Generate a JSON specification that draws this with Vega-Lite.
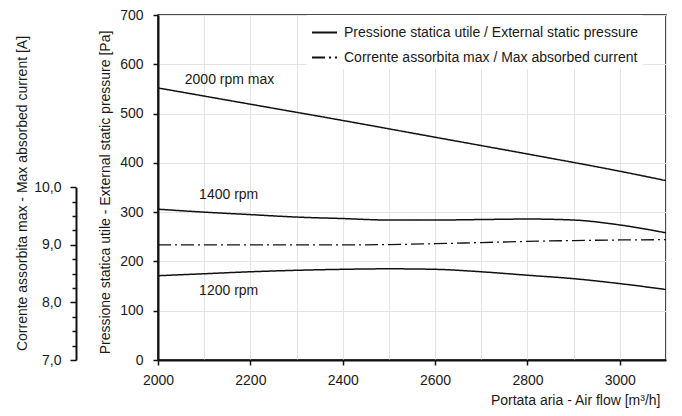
{
  "$schema": "https://vega.github.io/schema/vega-lite/v6.json",
  "width": 508,
  "height": 345,
  "autosize": {"type": "none"},
  "padding": {"left": 158, "top": 15, "right": 16, "bottom": 56},
  "background": "white",
  "config": {
    "font": "Liberation Sans",
    "view": {"stroke": "#111111", "strokeWidth": 1.5},
    "axis": {
      "labelFont": "Liberation Sans",
      "titleFont": "Liberation Sans",
      "labelFontSize": 14,
      "titleFontSize": 14,
      "titleFontWeight": "normal",
      "labelColor": "#1a1a1a",
      "titleColor": "#1a1a1a",
      "domainColor": "#111111",
      "domainWidth": 2,
      "tickColor": "#111111",
      "tickWidth": 1.5,
      "tickSize": 5,
      "gridColor": "#e4e4e4",
      "gridWidth": 1
    },
    "legend": {
      "fillColor": "white",
      "padding": 4,
      "symbolType": "stroke",
      "symbolSize": 625,
      "symbolStrokeWidth": 2,
      "symbolStrokeColor": "#111111",
      "labelFont": "Liberation Sans",
      "labelFontSize": 14,
      "labelColor": "#1a1a1a",
      "labelLimit": 500,
      "labelOffset": 6,
      "rowPadding": 4
    }
  },
  "datasets": {
    "pressure": [
      {"flow": 2000, "pa": 552, "curve": "2000", "serie": "Pressione statica utile / External static pressure"},
      {"flow": 2200, "pa": 519, "curve": "2000", "serie": "Pressione statica utile / External static pressure"},
      {"flow": 2400, "pa": 486, "curve": "2000", "serie": "Pressione statica utile / External static pressure"},
      {"flow": 2600, "pa": 452, "curve": "2000", "serie": "Pressione statica utile / External static pressure"},
      {"flow": 2800, "pa": 418, "curve": "2000", "serie": "Pressione statica utile / External static pressure"},
      {"flow": 3000, "pa": 383, "curve": "2000", "serie": "Pressione statica utile / External static pressure"},
      {"flow": 3100, "pa": 364, "curve": "2000", "serie": "Pressione statica utile / External static pressure"},
      {"flow": 2000, "pa": 306, "curve": "1400", "serie": "Pressione statica utile / External static pressure"},
      {"flow": 2100, "pa": 300, "curve": "1400", "serie": "Pressione statica utile / External static pressure"},
      {"flow": 2200, "pa": 295, "curve": "1400", "serie": "Pressione statica utile / External static pressure"},
      {"flow": 2300, "pa": 290, "curve": "1400", "serie": "Pressione statica utile / External static pressure"},
      {"flow": 2400, "pa": 287, "curve": "1400", "serie": "Pressione statica utile / External static pressure"},
      {"flow": 2500, "pa": 284, "curve": "1400", "serie": "Pressione statica utile / External static pressure"},
      {"flow": 2600, "pa": 284, "curve": "1400", "serie": "Pressione statica utile / External static pressure"},
      {"flow": 2700, "pa": 285, "curve": "1400", "serie": "Pressione statica utile / External static pressure"},
      {"flow": 2800, "pa": 286, "curve": "1400", "serie": "Pressione statica utile / External static pressure"},
      {"flow": 2900, "pa": 284, "curve": "1400", "serie": "Pressione statica utile / External static pressure"},
      {"flow": 3000, "pa": 274, "curve": "1400", "serie": "Pressione statica utile / External static pressure"},
      {"flow": 3100, "pa": 258, "curve": "1400", "serie": "Pressione statica utile / External static pressure"},
      {"flow": 2000, "pa": 171, "curve": "1200", "serie": "Pressione statica utile / External static pressure"},
      {"flow": 2100, "pa": 175, "curve": "1200", "serie": "Pressione statica utile / External static pressure"},
      {"flow": 2200, "pa": 179, "curve": "1200", "serie": "Pressione statica utile / External static pressure"},
      {"flow": 2300, "pa": 182, "curve": "1200", "serie": "Pressione statica utile / External static pressure"},
      {"flow": 2400, "pa": 184, "curve": "1200", "serie": "Pressione statica utile / External static pressure"},
      {"flow": 2500, "pa": 185, "curve": "1200", "serie": "Pressione statica utile / External static pressure"},
      {"flow": 2600, "pa": 184, "curve": "1200", "serie": "Pressione statica utile / External static pressure"},
      {"flow": 2700, "pa": 179, "curve": "1200", "serie": "Pressione statica utile / External static pressure"},
      {"flow": 2800, "pa": 172, "curve": "1200", "serie": "Pressione statica utile / External static pressure"},
      {"flow": 2900, "pa": 165, "curve": "1200", "serie": "Pressione statica utile / External static pressure"},
      {"flow": 3000, "pa": 155, "curve": "1200", "serie": "Pressione statica utile / External static pressure"},
      {"flow": 3100, "pa": 143, "curve": "1200", "serie": "Pressione statica utile / External static pressure"}
    ],
    "current": [
      {"flow": 2000, "amp": 9.0, "serie": "Corrente assorbita max / Max absorbed current"},
      {"flow": 2200, "amp": 9.0, "serie": "Corrente assorbita max / Max absorbed current"},
      {"flow": 2400, "amp": 9.0, "serie": "Corrente assorbita max / Max absorbed current"},
      {"flow": 2500, "amp": 9.005, "serie": "Corrente assorbita max / Max absorbed current"},
      {"flow": 2600, "amp": 9.02, "serie": "Corrente assorbita max / Max absorbed current"},
      {"flow": 2700, "amp": 9.04, "serie": "Corrente assorbita max / Max absorbed current"},
      {"flow": 2800, "amp": 9.06, "serie": "Corrente assorbita max / Max absorbed current"},
      {"flow": 2900, "amp": 9.075, "serie": "Corrente assorbita max / Max absorbed current"},
      {"flow": 3000, "amp": 9.085, "serie": "Corrente assorbita max / Max absorbed current"},
      {"flow": 3100, "amp": 9.09, "serie": "Corrente assorbita max / Max absorbed current"}
    ],
    "labels": [
      {"flow": 2058, "pa": 568, "text": "2000 rpm max"},
      {"flow": 2089, "pa": 335, "text": "1400 rpm"},
      {"flow": 2089, "pa": 140, "text": "1200 rpm"}
    ]
  },
  "layer": [
    {
      "layer": [
        {
          "data": {"name": "pressure"},
          "mark": {"type": "line", "interpolate": "monotone", "stroke": "#111111", "strokeWidth": 1.5},
          "encoding": {
            "x": {
              "field": "flow", "type": "quantitative",
              "scale": {"domain": [2000, 3100], "nice": false, "zero": false},
              "axis": {
                "values": [2000,2050,2100,2150,2200,2250,2300,2350,2400,2450,2500,2550,2600,2650,2700,2750,2800,2850,2900,2950,3000,3050,3100],
                "labelExpr": "datum.value % 200 == 0 ? datum.label : ''",
                "format": "d",
                "tickOpacity": {"condition": {"test": "datum.value % 200 == 0", "value": 1}, "value": 0},
                "grid": true,
                "labelPadding": 8,
                "labelFlush": false,
                "labelOverlap": false,
                "title": "Portata aria - Air flow [m³/h]",
                "titleAnchor": null,
                "titleX": 502,
                "titleY": 44,
                "titleAlign": "right",
                "titleBaseline": "alphabetic"
              }
            },
            "y": {
              "field": "pa", "type": "quantitative",
              "scale": {"domain": [0, 700], "nice": false},
              "axis": {
                "values": [0,25,50,75,100,125,150,175,200,225,250,275,300,325,350,375,400,425,450,475,500,525,550,575,600,625,650,675,700],
                "labelExpr": "datum.value % 100 == 0 ? datum.label : ''",
                "tickOpacity": {"condition": {"test": "datum.value % 100 == 0", "value": 1}, "value": 0},
                "grid": true,
                "labelPadding": 10,
                "labelFlush": false,
                "labelOverlap": false,
                "title": "Pressione statica utile - External static pressure [Pa]",
                "titleAnchor": null,
                "titleX": -53,
                "titleY": 177,
                "titleAngle": -90,
                "titleAlign": "center",
                "titleBaseline": "middle"
              }
            },
            "detail": {"field": "curve"},
            "strokeDash": {
              "field": "serie", "type": "nominal",
              "scale": {
                "domain": ["Pressione statica utile / External static pressure", "Corrente assorbita max / Max absorbed current"],
                "range": [[1, 0], [13, 4, 2, 4]]
              },
              "legend": {"title": null, "orient": "none", "legendX": 149, "legendY": 0}
            }
          }
        },
        {
          "data": {"name": "labels"},
          "mark": {"type": "text", "align": "left", "baseline": "middle", "fontSize": 14, "font": "Liberation Sans", "color": "#1a1a1a"},
          "encoding": {
            "x": {"field": "flow", "type": "quantitative"},
            "y": {"field": "pa", "type": "quantitative"},
            "text": {"field": "text"}
          }
        }
      ]
    },
    {
      "data": {"name": "current"},
      "mark": {"type": "line", "interpolate": "monotone", "stroke": "#111111", "strokeWidth": 1.3},
      "encoding": {
        "x": {"field": "flow", "type": "quantitative"},
        "y": {
          "field": "amp", "type": "quantitative",
          "scale": {"domain": [7, 10], "range": [345, 172.3], "nice": false, "zero": false},
          "axis": {
            "orient": "left",
            "offset": 82,
            "grid": false,
            "values": [7,7.25,7.5,7.75,8,8.25,8.5,8.75,9,9.25,9.5,9.75,10],
            "labelExpr": "datum.value % 1 == 0 ? replace(format(datum.value, '.1f'), '.', ',') : ''",
            "tickSize": {"condition": {"test": "datum.value % 1 == 0", "value": 6}, "value": 4},
            "labelPadding": 9,
            "labelFlush": false,
            "labelOverlap": false,
            "title": "Corrente assorbita max - Max absorbed current [A]",
            "titleAnchor": null,
            "titleX": -54,
            "titleY": 178,
            "titleAngle": -90,
            "titleAlign": "center",
            "titleBaseline": "middle"
          }
        },
        "strokeDash": {"field": "serie", "type": "nominal"}
      }
    }
  ],
  "resolve": {"scale": {"y": "independent"}, "axis": {"y": "independent"}}
}
